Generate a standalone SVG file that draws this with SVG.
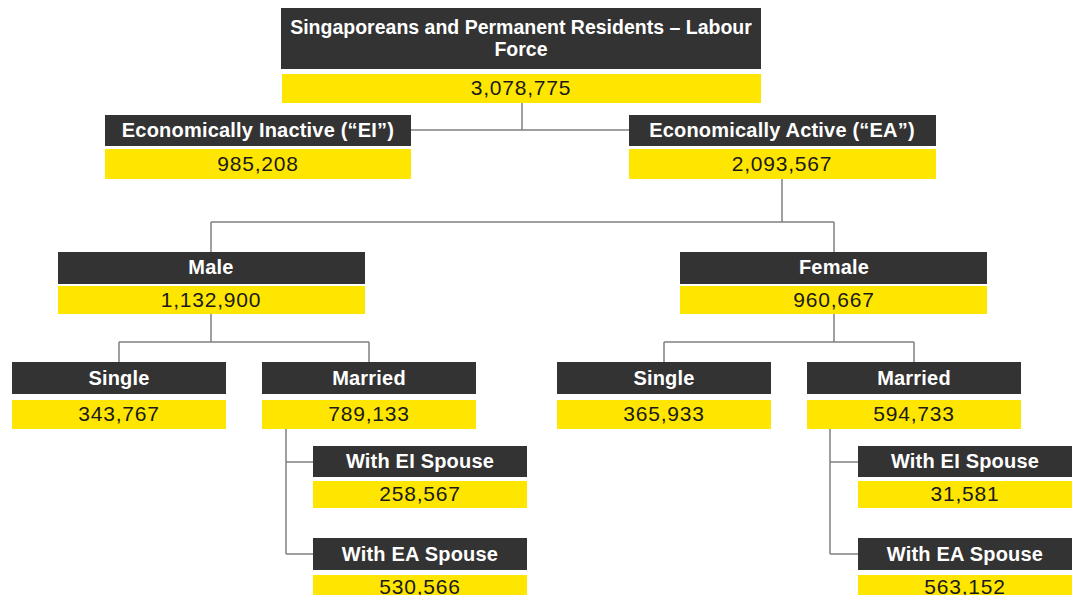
<svg xmlns="http://www.w3.org/2000/svg" width="1078" height="595" viewBox="0 0 1078 595">
<style>
.hd{fill:#333333}
.val{fill:#FFE600}
.ht{font-family:"Liberation Sans",Arial,sans-serif;font-weight:bold;font-size:20px;letter-spacing:0.2px;fill:#ffffff;text-anchor:middle}
.tt{font-family:"Liberation Sans",Arial,sans-serif;font-weight:bold;font-size:19.5px;fill:#ffffff;text-anchor:middle}
.vt{font-family:"Liberation Sans",Arial,sans-serif;font-size:21px;letter-spacing:0.8px;fill:#1a1a1a;text-anchor:middle}
.ln{fill:none;stroke:#808080;stroke-width:1.5}
</style>
<rect width="1078" height="595" fill="#ffffff"/>
<g id="connectors">
<path class="ln" d="M522,103V130M411,130H629"/>
<path class="ln" d="M782,179V222M211,222H834M211,222V252M834,222V252"/>
<path class="ln" d="M211,314V342M119,342H369M119,342V362M369,342V362"/>
<path class="ln" d="M834,314V342M664,342H914M664,342V362M914,342V362"/>
<path class="ln" d="M286,429V554M286,462H313M286,554H313"/>
<path class="ln" d="M830,429V554M830,462H858M830,554H858"/>
</g>
<g id="top">
<rect class="hd" x="281" y="8" width="480" height="61"/>
<rect class="val" x="282" y="74" width="479" height="29"/>
<text class="tt" x="521" y="34">Singaporeans and Permanent Residents – Labour</text>
<text class="tt" x="521" y="56">Force</text>
<text class="vt" x="521" y="95">3,078,775</text>
</g>
<g id="ei">
<rect class="hd" x="105" y="115" width="306" height="31"/>
<rect class="val" x="105" y="149" width="306" height="30"/>
<text class="ht" x="258" y="137">Economically Inactive (“EI”)</text>
<text class="vt" x="258" y="171">985,208</text>
</g>
<g id="ea">
<rect class="hd" x="629" y="115" width="307" height="31"/>
<rect class="val" x="629" y="149" width="307" height="30"/>
<text class="ht" x="782" y="137">Economically Active (“EA”)</text>
<text class="vt" x="782" y="171">2,093,567</text>
</g>
<g id="male">
<rect class="hd" x="58" y="252" width="307" height="32"/>
<rect class="val" x="58" y="286" width="307" height="28"/>
<text class="ht" x="211" y="274">Male</text>
<text class="vt" x="211" y="307">1,132,900</text>
</g>
<g id="female">
<rect class="hd" x="680" y="252" width="307" height="32"/>
<rect class="val" x="680" y="286" width="307" height="28"/>
<text class="ht" x="834" y="274">Female</text>
<text class="vt" x="834" y="307">960,667</text>
</g>
<g id="male-single">
<rect class="hd" x="12" y="362" width="214" height="32"/>
<rect class="val" x="12" y="400" width="214" height="29"/>
<text class="ht" x="119" y="385">Single</text>
<text class="vt" x="119" y="421">343,767</text>
</g>
<g id="male-married">
<rect class="hd" x="262" y="362" width="214" height="32"/>
<rect class="val" x="262" y="400" width="214" height="29"/>
<text class="ht" x="369" y="385">Married</text>
<text class="vt" x="369" y="421">789,133</text>
</g>
<g id="female-single">
<rect class="hd" x="557" y="362" width="214" height="32"/>
<rect class="val" x="557" y="400" width="214" height="29"/>
<text class="ht" x="664" y="385">Single</text>
<text class="vt" x="664" y="421">365,933</text>
</g>
<g id="female-married">
<rect class="hd" x="807" y="362" width="214" height="32"/>
<rect class="val" x="807" y="400" width="214" height="29"/>
<text class="ht" x="914" y="385">Married</text>
<text class="vt" x="914" y="421">594,733</text>
</g>
<g id="male-ei-spouse">
<rect class="hd" x="313" y="446" width="214" height="31"/>
<rect class="val" x="313" y="481" width="214" height="27"/>
<text class="ht" x="420" y="468">With EI Spouse</text>
<text class="vt" x="420" y="501">258,567</text>
</g>
<g id="male-ea-spouse">
<rect class="hd" x="313" y="538" width="214" height="32"/>
<rect class="val" x="313" y="575" width="214" height="20"/>
<text class="ht" x="420" y="561">With EA Spouse</text>
<text class="vt" x="420" y="594">530,566</text>
</g>
<g id="female-ei-spouse">
<rect class="hd" x="858" y="446" width="214" height="31"/>
<rect class="val" x="858" y="481" width="214" height="27"/>
<text class="ht" x="965" y="468">With EI Spouse</text>
<text class="vt" x="965" y="501">31,581</text>
</g>
<g id="female-ea-spouse">
<rect class="hd" x="858" y="538" width="214" height="32"/>
<rect class="val" x="858" y="575" width="214" height="20"/>
<text class="ht" x="965" y="561">With EA Spouse</text>
<text class="vt" x="965" y="594">563,152</text>
</g>
</svg>
